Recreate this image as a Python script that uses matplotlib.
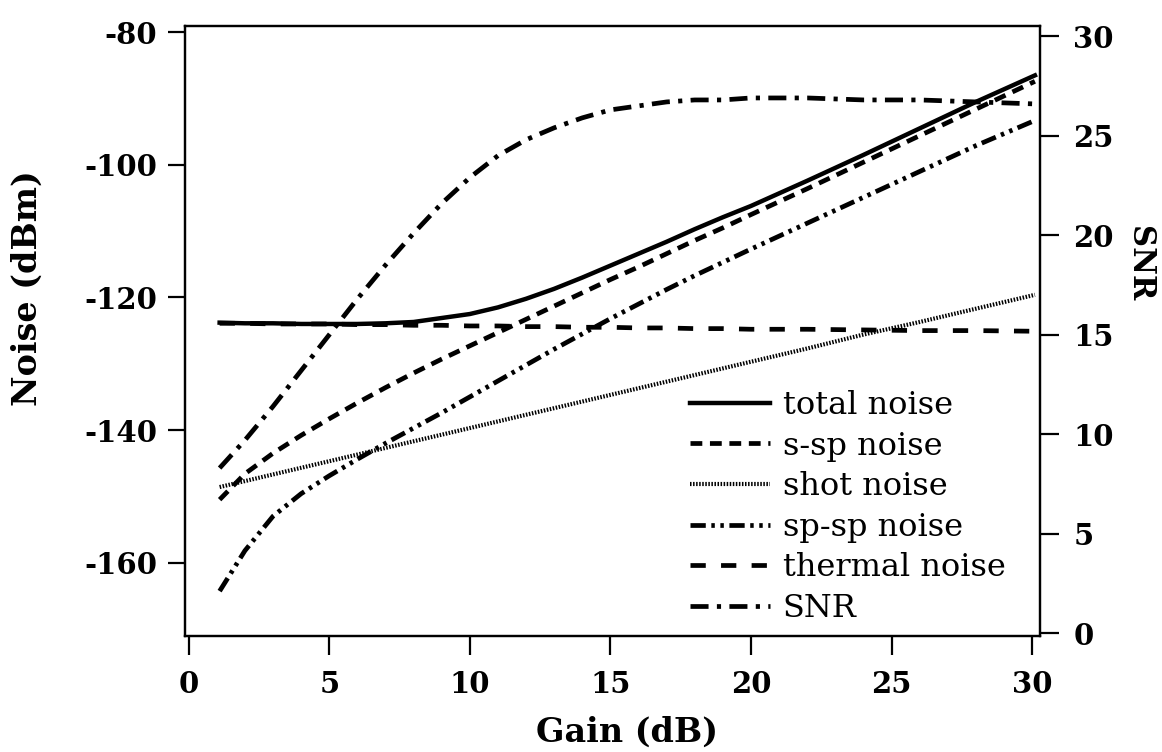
import matplotlib
matplotlib.use('Agg')
import matplotlib.pyplot as plt

# values
gain = [1.1, 2, 3, 4, 5, 6, 7, 8, 9, 10, 11, 12, 13, 14, 15, 16, 17, 18, 19, 20,
        22, 24, 26, 28, 30.1]
total_noise = [-123.8, -123.9, -123.9, -124.0, -124.0, -124.0, -123.9, -123.7, -123.1,
               -122.5, -121.5, -120.2, -118.7, -117.0, -115.2, -113.4, -111.6, -109.7,
               -107.9, -106.2, -102.4, -98.5, -94.5, -90.5, -86.5]
ssp_noise = [-150.5, -146.6, -143.5, -140.8, -138.3, -135.9, -133.6, -131.4, -129.3,
             -127.3, -125.3, -123.3, -121.3, -119.3, -117.3, -115.4, -113.4, -111.4,
             -109.5, -107.5, -103.6, -99.6, -95.6, -91.6, -87.4]
shot_noise = [-148.6, -147.7, -146.7, -145.7, -144.7, -143.7, -142.7, -141.7, -140.7,
              -139.7, -138.7, -137.7, -136.7, -135.7, -134.7, -133.7, -132.7, -131.7,
              -130.7, -129.7, -127.7, -125.6, -123.7, -121.7, -119.6]
spsp_noise = [-164.3, -158.2, -153.0, -149.6, -146.9, -144.4, -142.0, -139.7, -137.4,
              -135.0, -132.6, -130.2, -127.8, -125.5, -123.2, -121.0, -118.8, -116.7,
              -114.7, -112.7, -108.8, -104.9, -101.0, -97.1, -93.3]
thermal_noise = [-123.9, -123.9, -124.0, -124.0, -124.0, -124.1, -124.1, -124.2, -124.2,
                 -124.3, -124.3, -124.4, -124.4, -124.5, -124.5, -124.6, -124.6, -124.7,
                 -124.7, -124.8, -124.8, -124.9, -125.0, -125.0, -125.1]
snr = [8.3, 9.7, 11.4, 13.2, 15.0, 16.8, 18.5, 20.1, 21.6, 22.9, 24.0, 24.8, 25.4, 25.9,
       26.3, 26.5, 26.7, 26.8, 26.8, 26.9, 26.9, 26.8, 26.8, 26.7, 26.6]

x_ticks = [0, 5, 10, 15, 20, 25, 30]
noise_ticks = [-160, -140, -120, -100, -80]
snr_ticks = [0, 5, 10, 15, 20, 25, 30]

plt.rcParams['font.family'] = ['DejaVu Serif']
plt.rcParams['axes.unicode_minus'] = False
plt.rcParams['lines.scale_dashes'] = False

fig = plt.figure(figsize=(11.62, 7.52), dpi=100)
ax = fig.add_axes([0.159, 0.154, 0.736, 0.811])
ax2 = ax.twinx()

l1, = ax.plot(gain, total_noise, color='black', lw=3.2, label='total noise')
l2, = ax.plot(gain, ssp_noise, color='black', lw=3.4, dashes=(8.5, 5.5), label='s-sp noise')
l3, = ax.plot(gain, shot_noise, color='black', lw=3.0, dashes=(1.1, 1.1), label='shot noise')
l4, = ax.plot(gain, spsp_noise, color='black', lw=3.4,
              dashes=(11, 4, 2.5, 4, 2.5, 4), label='sp-sp noise')
l5, = ax.plot(gain, thermal_noise, color='black', lw=3.4, dashes=(11, 11), label='thermal noise')
l6, = ax2.plot(gain, snr, color='black', lw=3.4, dashes=(13, 6, 3, 6), label='SNR')

ax.set_xlim(-0.14, 30.28)
ax.set_ylim(-171.1, -79.1)
ax2.set_ylim(-0.15, 30.5)

ax.set_xticks(x_ticks)
ax.set_yticks(noise_ticks)
ax2.set_yticks(snr_ticks)

for a in (ax, ax2):
    for s in a.spines.values():
        s.set_linewidth(1.6)
ax.tick_params(axis='y', direction='out', length=12, width=1.6, pad=8, labelsize=21)
ax.tick_params(axis='x', direction='out', length=14, width=1.6, pad=10, labelsize=21)
ax2.tick_params(axis='y', direction='out', length=14, width=1.6, pad=10, labelsize=21)
for lab in ax.get_xticklabels() + ax.get_yticklabels() + ax2.get_yticklabels():
    lab.set_fontweight('bold')

ax.set_xlabel('Gain (dB)', fontsize=24, fontweight='bold')
ax.set_ylabel('Noise (dBm)', fontsize=24, fontweight='bold')
ax2.set_ylabel('SNR', fontsize=22, fontweight='bold', rotation=270, va='bottom')
ax.xaxis.set_label_coords(0.517, -0.13)
ax.yaxis.set_label_coords(-0.165, 0.57)
ax2.yaxis.set_label_coords(1.098, 0.61)

fig.legend(handles=[l1, l2, l3, l4, l5, l6], loc='upper left',
           bbox_to_anchor=(690 / 1162, 1 - 390 / 752), frameon=False,
           fontsize=23, handlelength=2.5, handletextpad=0.4, labelspacing=0.3,
           borderpad=0, borderaxespad=0)

fig.savefig('out.png', dpi=100)
